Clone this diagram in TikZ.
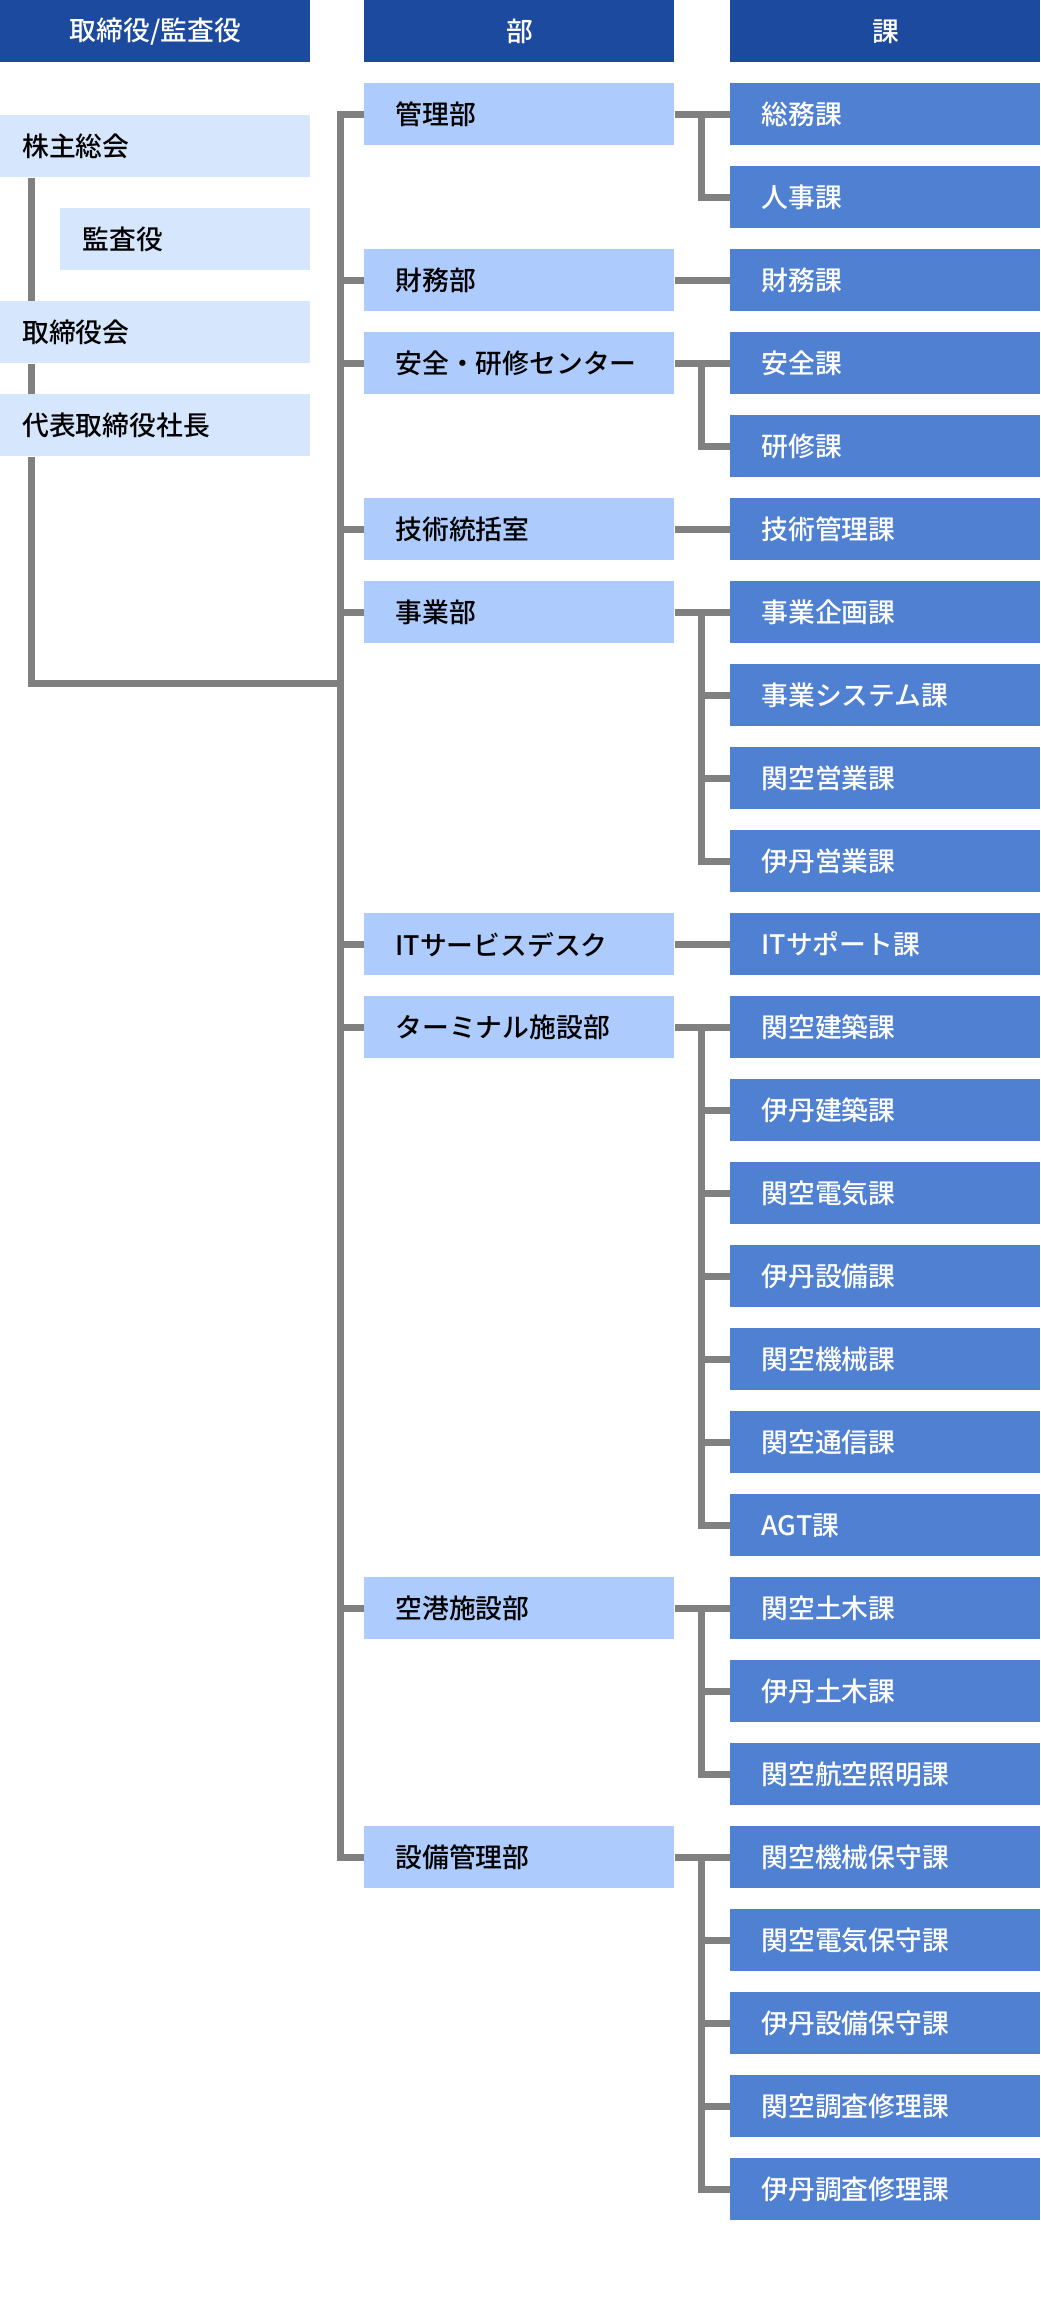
\documentclass[tikz,border=0pt]{standalone}
\usepackage{fontspec}
\setmainfont{Noto Sans CJK JP}[BoldFont={Noto Sans CJK JP Medium}]
\usepackage{xcolor}
\usetikzlibrary{positioning}

\definecolor{headblue}{HTML}{1B4A9E}
\definecolor{bublue}{HTML}{ADCBFC}
\definecolor{kablue}{HTML}{4F80D2}
\definecolor{yakublue}{HTML}{D6E6FD}
\definecolor{linegray}{HTML}{808080}

\begin{document}
\begin{tikzpicture}[x=0.5pt, y=-0.5pt,
		box/.style={anchor=north west, inner ysep=0pt, minimum height=31pt, align=left,
			font=\fontsize{13.4pt}{15pt}\selectfont\bfseries},
		headbox/.style={box, fill=headblue, text=white, align=center, inner xsep=0pt, text width=155pt},
		yakubox/.style={box, fill=yakublue, text=black, inner xsep=11pt, text width=133pt},
		bubox/.style={box, fill=bublue, text=black, inner xsep=15.5pt, text width=124pt},
		kabox/.style={box, fill=kablue, text=white, inner xsep=15.5pt, text width=124pt},
		conn/.style={draw=linegray, line width=3.5pt}]
		\useasboundingbox (0,0) rectangle (1040,2300);

		% Header
		\node[headbox] (hdyaku) at (0,0) {取締役/監査役};
		\node[headbox] (hdbu) at (364,0) {部};
		\node[headbox] (hdka) at (730,0) {課};

		% Left column
		\node[yakubox] (kabunushi) at (0,115) {株主総会};
		\node[yakubox, text width=103pt] (kansa) at (60,208) {監査役};
		\node[yakubox] (torishimari) at (0,301) {取締役会};
		\node[yakubox] (shacho) at (0,394) {代表取締役社長};
		\coordinate (junction) at (340.5,683);

		% Sections
		\foreach \txt [count=\i from 0] in {総務課, 人事課, 財務課, 安全課, 研修課, 技術管理課,
			事業企画課, 事業システム課, 関空営業課, 伊丹営業課, ITサポート課,
			関空建築課, 伊丹建築課, 関空電気課, 伊丹設備課, 関空機械課, 関空通信課, AGT課,
			関空土木課, 伊丹土木課, 関空航空照明課,
			関空機械保守課, 関空電気保守課, 伊丹設備保守課, 関空調査修理課, 伊丹調査修理課}
			\node[kabox] (ka\i) at (730,{83+83*\i}) {\txt};

		% Departments
		\foreach \r/\txt in {0/管理部, 2/財務部, 3/安全・研修センター, 5/技術統括室, 6/事業部,
			10/ITサービスデスク, 11/ターミナル施設部, 18/空港施設部, 21/設備管理部}
			\node[bubox] (bu\r) at (364,{83+83*\r}) {\txt};

		% Left links
		\draw[conn] ([xshift=15.5pt]kabunushi.south west) -- ([xshift=15.5pt]torishimari.north west);
		\draw[conn] ([xshift=15.5pt]torishimari.south west) -- ([xshift=15.5pt]shacho.north west);
		\draw[conn] ([xshift=15.5pt]shacho.south west) |- (junction);

		% Trunk
		\draw[conn] (bu0.west) -- ++(-23.5,0) |- (bu21.west);
		\foreach \r in {2,3,5,6,10,11,18}
			\draw[conn] (bu\r.west) -- ++(-23.5,0);

		% Department to section
		\foreach \a/\b in {0/1, 2/2, 3/4, 5/5, 6/9, 10/10, 11/17, 18/20, 21/25} {
			\draw[conn] (bu\a.east) -- (ka\a.west);
			\draw[conn] (bu\a.east) -- ++(27,0) |- (ka\b.west);
		}
		\foreach \k in {7,8,12,13,14,15,16,19,22,23,24}
			\draw[conn] (ka\k.west) -- ++(-30,0);
	\end{tikzpicture}
\end{document}
